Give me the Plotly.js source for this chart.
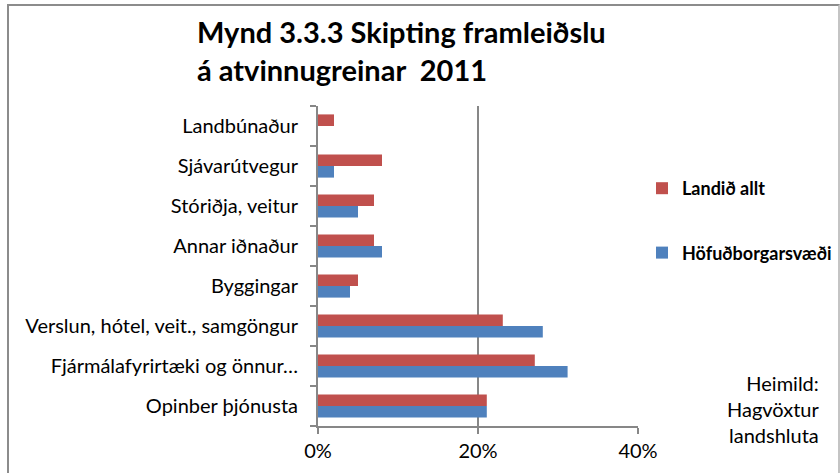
<!DOCTYPE html>
<html>
<head>
<meta charset="utf-8">
<script src="https://cdn.plot.ly/plotly-3.0.1.min.js"></script>
<style>
  html, body { margin: 0; padding: 0; background: #fff; }
  #wrap { position: relative; width: 840px; height: 473px; }
  #grafico { width: 840px; height: 473px; }
  #borda {
    position: absolute; left: 7px; top: 4px; width: 829px; height: 475px;
    border: 2px solid #8c8c8c; border-right: 2px solid #c4c4c4;
    pointer-events: none;
  }
</style>
</head>
<body>
<div id="wrap">
  <div id="grafico"></div>
  <div id="borda"></div>
</div>
<script>
// ===== Dados (de baixo para cima) =====
const atvinnugreinar = [
  "Opinber þjónusta",
  "Fjármálafyrirtæki og önnur…",
  "Verslun, hótel, veit., samgöngur",
  "Byggingar",
  "Annar iðnaður",
  "Stóriðja, veitur",
  "Sjávarútvegur",
  "Landbúnaður",
];
const hofudborgarsvaedi = [21.1, 31.2, 28.1, 4.0, 8.0, 5.0, 2.0, 0];
const landidAllt = [21.1, 27.1, 23.1, 5.0, 7.0, 7.0, 8.0, 2.0];
const xTicks = [0, 20, 40];
const xTickText = xTicks.map(v => v + "%");

const fonte = "Lato, 'Open Sans', sans-serif";
const cinza = "#878787";

// ===== Gráfico =====
// primeira série fica embaixo dentro de cada grupo
const data = [
  {
    type: "bar", orientation: "h", name: "Höfuðborgarsvæði",
    y: atvinnugreinar, x: hofudborgarsvaedi,
    marker: { color: "#4F81BD" },
    legendgroup: "b", legendrank: 2, hoverinfo: "x+y",
  },
  {
    type: "bar", orientation: "h", name: "Landið allt",
    y: atvinnugreinar, x: landidAllt,
    marker: { color: "#C0504D" },
    legendgroup: "a", legendrank: 1, hoverinfo: "x+y",
  },
];

const layout = {
  width: 840, height: 473,
  paper_bgcolor: "#fff", plot_bgcolor: "#fff",
  font: { family: fonte, size: 20, color: "#000" },
  margin: { l: 318, r: 202, t: 106, b: 47, pad: 0, autoexpand: false },
  barmode: "group", bargap: 0.42, bargroupgap: 0,
  title: {
    text: "Mynd 3.3.3 Skipting framleiðslu<br>á atvinnugreinar&nbsp; 2011",
    xref: "container", yref: "container",
    x: 197 / 840, xanchor: "left",
    y: 1 - 43 / 473, yanchor: "top",
    font: { family: fonte, size: 29, weight: "bold", color: "#000" },
  },
  xaxis: {
    range: [0, 40], tickmode: "array", tickvals: xTicks, ticktext: xTickText,
    showgrid: true, gridcolor: cinza, gridwidth: 2,
    showline: true, linecolor: cinza, linewidth: 2,
    ticks: "outside", ticklen: 6, tickcolor: cinza, tickwidth: 2,
    zeroline: false, fixedrange: true,
    tickfont: { size: 20 },
  },
  yaxis: {
    type: "category", categoryorder: "array", categoryarray: atvinnugreinar,
    showline: true, linecolor: cinza, linewidth: 2,
    ticks: "outside", tickson: "boundaries", ticklen: 6,
    tickcolor: cinza, tickwidth: 2, ticklabelstandoff: 14,
    showgrid: false, zeroline: false, fixedrange: true,
    tickfont: { size: 20 },
  },
  showlegend: true,
  legend: {
    x: (642 - 318) / 320, xanchor: "left", y: 0.80, yanchor: "top",
    traceorder: "grouped", tracegroupgap: 38,
    font: { family: fonte, size: 18, weight: "bold", color: "#000" },
    bgcolor: "rgba(0,0,0,0)",
  },
  annotations: [
    {
      text: "Heimild:<br>Hagvöxtur<br>landshluta",
      xref: "paper", yref: "paper",
      x: (822 - 318) / 320, xanchor: "right",
      y: (426 - 369) / 320, yanchor: "top",
      align: "right", showarrow: false,
      font: { family: fonte, size: 20, color: "#000" },
    },
  ],
};

Plotly.newPlot("grafico", data, layout, { displayModeBar: false, staticPlot: true });
</script>
</body>
</html>
